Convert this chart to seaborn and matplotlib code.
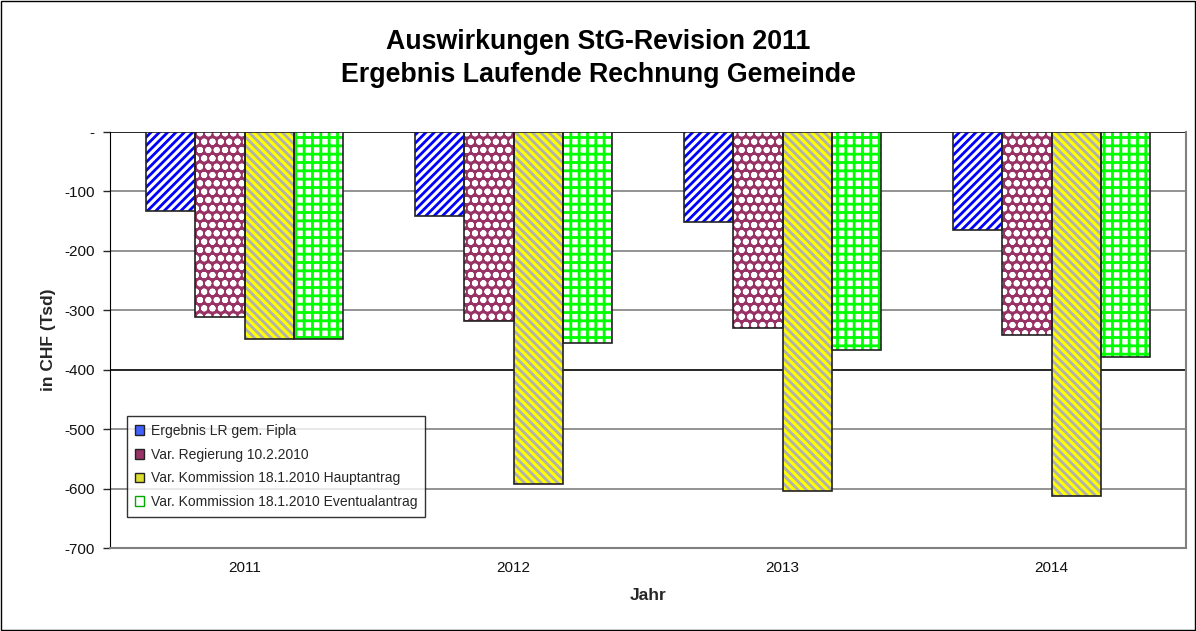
import pandas as pd
import matplotlib
matplotlib.use("Agg")
import matplotlib.pyplot as plt
import seaborn as sns
from matplotlib.patches import Rectangle
from matplotlib.ticker import FuncFormatter

# values (CHF thousands)
years = ["2011", "2012", "2013", "2014"]
series = [
    "Ergebnis LR gem. Fipla",
    "Var. Regierung 10.2.2010",
    "Var. Kommission 18.1.2010 Hauptantrag",
    "Var. Kommission 18.1.2010 Eventualantrag",
]
fipla = [-133, -142, -152, -165]
regierung = [-312, -318, -330, -342]
hauptantrag = [-348, -592, -604, -612]
eventualantrag = [-348, -355, -366, -378]

# fill colour, hatch colour, hatch pattern per series
face_colors = ["white", "#993366", "#ffff00", "white"]
hatch_colors = ["#0000ff", "white", "#b0b0b0", "#00ff00"]
hatches = ["////", "oo", "\\\\\\\\", "++"]
legend_colors = ["#4060ff", "#993366", "#dddd30", "white"]

df = pd.DataFrame({
    "Jahr": years * 4,
    "Serie": [s for s in series for _ in years],
    "Wert": fipla + regierung + hauptantrag + eventualantrag,
})

sns.set_style("white")
plt.rcParams["font.family"] = ["Liberation Sans", "DejaVu Sans"]
plt.rcParams["hatch.linewidth"] = 2.0

fig = plt.figure(figsize=(11.96, 6.31), dpi=100)
ax = fig.add_axes([0.092, 0.1315, 0.8997, 0.6593])

sns.barplot(data=df, x="Jahr", y="Wert", hue="Serie", hue_order=series,
            order=years, palette=face_colors, width=0.73, gap=0,
            saturation=1, ax=ax, legend=False, zorder=3)

# hatch each series, then put a dark outline on top
for i, cont in enumerate(ax.containers):
    for p in cont.patches:
        p.set_hatch(hatches[i])
        p.set_edgecolor(hatch_colors[i])
        p.set_linewidth(0)
        ax.add_patch(Rectangle(p.get_xy(), p.get_width(), p.get_height(),
                               fill=False, edgecolor="#222222", linewidth=1.2,
                               zorder=4))

ax.set_ylim(-700, 0)
ax.set_yticks(range(-700, 1, 100))
ax.yaxis.set_major_formatter(FuncFormatter(lambda v, _: "-" if v == 0 else f"{int(v)}"))
for v in range(-700, 1, 100):
    col = "black" if v in (0, -400) else "#808080"
    ax.axhline(v, color=col, linewidth=1.2, zorder=1)

ax.tick_params(axis="y", direction="out", length=5, width=1, labelsize=11, pad=6,
               left=True, labelcolor="#111111")
ax.tick_params(axis="x", length=0, labelsize=11, pad=9, labelcolor="#111111")
for side in ["right", "bottom"]:
    ax.spines[side].set_color("#808080")
    ax.spines[side].set_linewidth(1.5)
ax.spines["left"].set_color("black")
ax.spines["top"].set_visible(False)

ax.set_xlabel("Jahr", fontsize=12.5, fontweight="bold", labelpad=10)
ax.set_ylabel("in CHF (Tsd)", fontsize=12.5, fontweight="bold", labelpad=6)

fig.text(0.5, 0.907, "Auswirkungen StG-Revision 2011\nErgebnis Laufende Rechnung Gemeinde",
         ha="center", va="center", fontsize=19.3, fontweight="bold", linespacing=1.32,
         color="black")

handles = [Rectangle((0, 0), 1, 1, facecolor=legend_colors[i], edgecolor="#222222",
                     linewidth=1) for i in range(4)]
handles[3].set_edgecolor("#00aa00")
leg = ax.legend(handles, series, loc="upper left", bbox_to_anchor=(0.0158, 0.317),
                fontsize=10, frameon=True, fancybox=False, edgecolor="black",
                handlelength=0.7, handleheight=0.7, handletextpad=0.5,
                borderpad=0.55, labelspacing=0.7, borderaxespad=0)
leg.get_frame().set_linewidth(1)
leg.set_zorder(5)

# outer border of the chart area
fig.patches.append(Rectangle((0.001, 0.001), 0.998, 0.997, transform=fig.transFigure,
                             fill=False, edgecolor="black", linewidth=1))

fig.savefig("out.png", dpi=100)
